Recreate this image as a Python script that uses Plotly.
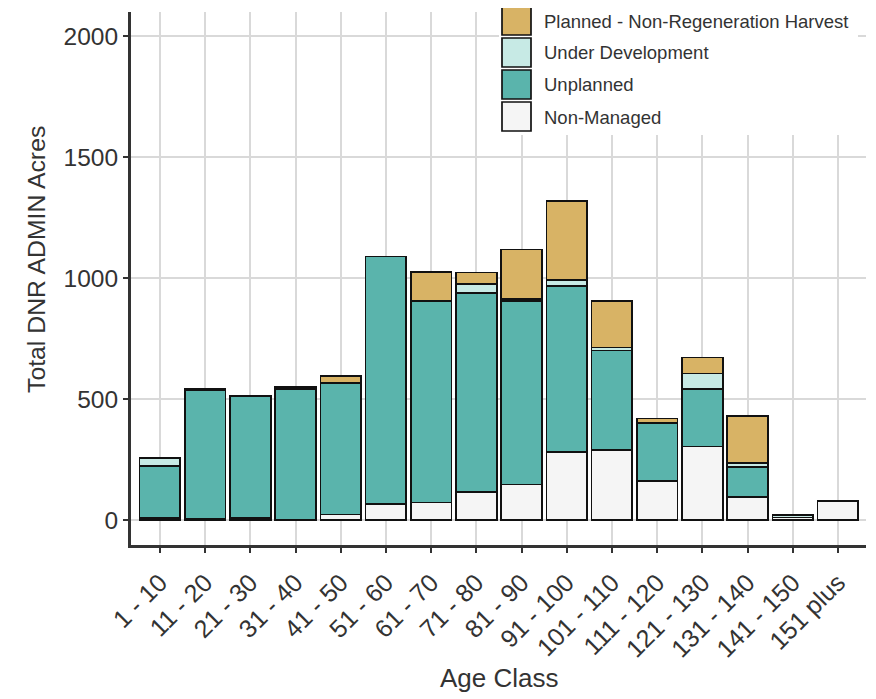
import plotly.graph_objects as go

categories = ["1 - 10", "11 - 20", "21 - 30", "31 - 40", "41 - 50", "51 - 60",
              "61 - 70", "71 - 80", "81 - 90", "91 - 100", "101 - 110",
              "111 - 120", "121 - 130", "131 - 140", "141 - 150", "151 plus"]
non_managed = [8, 5, 10, 0, 23, 65, 72, 116, 147, 280, 289, 161, 304, 96, 11, 80]
unplanned = [215, 532, 504, 541, 542, 1024, 832, 823, 757, 686, 412, 238, 238, 122, 0, 0]
under_development = [33, 3, 0, 4, 0, 0, 0, 36, 10, 25, 12, 3, 64, 19, 10, 0]
planned_nonregen = [0, 3, 0, 6, 31, 0, 120, 48, 204, 328, 191, 18, 66, 194, 0, 0]
y_ticks = [0, 500, 1000, 1500, 2000]

series_names = ["Non-Managed", "Unplanned", "Under Development",
                "Planned - Non-Regeneration Harvest"]
series_values = [non_managed, unplanned, under_development, planned_nonregen]
series_colors = ["#F5F5F5", "#5AB4AC", "#C7EAE5", "#D8B365"]

# page body has an 8px default margin: work in window pixels, then offset
OFF = 8
WIN_W, WIN_H = 876, 699
W, H = WIN_W - OFF, WIN_H - OFF
PL, PR, PT, PB = 131, 866, 12, 545          # plot area in window pixels
L, R, T, B = PL - OFF, WIN_W - PR, PT - OFF, WIN_H - PB

fig = go.Figure()
for name, vals, col in zip(series_names, series_values, series_colors):
    fig.add_trace(go.Bar(
        x=categories, y=[v if v else None for v in vals], name=name,
        marker=dict(color=col, line=dict(color="#111111", width=1.7)),
        width=0.9, showlegend=False,
    ))


def px_x(px):
    return (px - PL) / (PR - PL)


def px_y(py):
    return 1 - (py - PT) / (PB - PT)


shapes = [dict(type="rect", xref="paper", yref="paper", layer="above",
               x0=px_x(499), x1=px_x(858), y0=px_y(135), y1=px_y(4),
               fillcolor="white", line=dict(width=0))]
annotations = []
legend_order = [3, 2, 1, 0]
swatch_tops = [6, 38, 70, 102]
for idx, top in zip(legend_order, swatch_tops):
    shapes.append(dict(type="rect", xref="paper", yref="paper", layer="above",
                       x0=px_x(502), x1=px_x(531), y0=px_y(top + 29), y1=px_y(top),
                       fillcolor=series_colors[idx],
                       line=dict(color="#111111", width=1.7)))
    annotations.append(dict(xref="paper", yref="paper", x=px_x(542),
                            y=px_y(top + 15), text=series_names[idx],
                            showarrow=False, xanchor="left", yanchor="middle",
                            font=dict(size=18.5, color="#333333")))

annotations.append(dict(xref="paper", yref="paper", x=px_x(499), y=px_y(678),
                        text="Age Class", showarrow=False,
                        xanchor="center", yanchor="middle",
                        font=dict(size=26, color="#333333")))
annotations.append(dict(xref="paper", yref="paper", x=px_x(36), y=px_y(260),
                        text="Total DNR ADMIN Acres", showarrow=False,
                        textangle=-90, xanchor="center", yanchor="middle",
                        font=dict(size=24.8, color="#333333")))

fig.update_layout(
    barmode="stack",
    width=W, height=H,
    margin=dict(l=L, r=R, t=T, b=B, autoexpand=False),
    plot_bgcolor="white", paper_bgcolor="white",
    font=dict(family="Liberation Sans, Arial, sans-serif", color="#333333"),
    shapes=shapes, annotations=annotations,
)
fig.update_xaxes(
    type="category", range=[-0.64, 15.62], automargin=False,
    showgrid=True, gridcolor="#D9D9D9", gridwidth=1.5,
    showline=True, linecolor="#333333", linewidth=3,
    ticks="outside", ticklen=5, tickwidth=1.5, tickcolor="#333333",
    tickangle=-45, tickfont=dict(size=25, color="#333333"),
    ticklabelstandoff=5,
)
fig.update_yaxes(
    range=[-103, 2099], automargin=False,
    tickvals=y_ticks,
    showgrid=True, gridcolor="#D9D9D9", gridwidth=1.5,
    zeroline=False,
    showline=True, linecolor="#333333", linewidth=3,
    ticks="outside", ticklen=5, tickwidth=1.5, tickcolor="#333333",
    tickfont=dict(size=24.5, color="#333333"),
)
fig.write_html("out.html")
